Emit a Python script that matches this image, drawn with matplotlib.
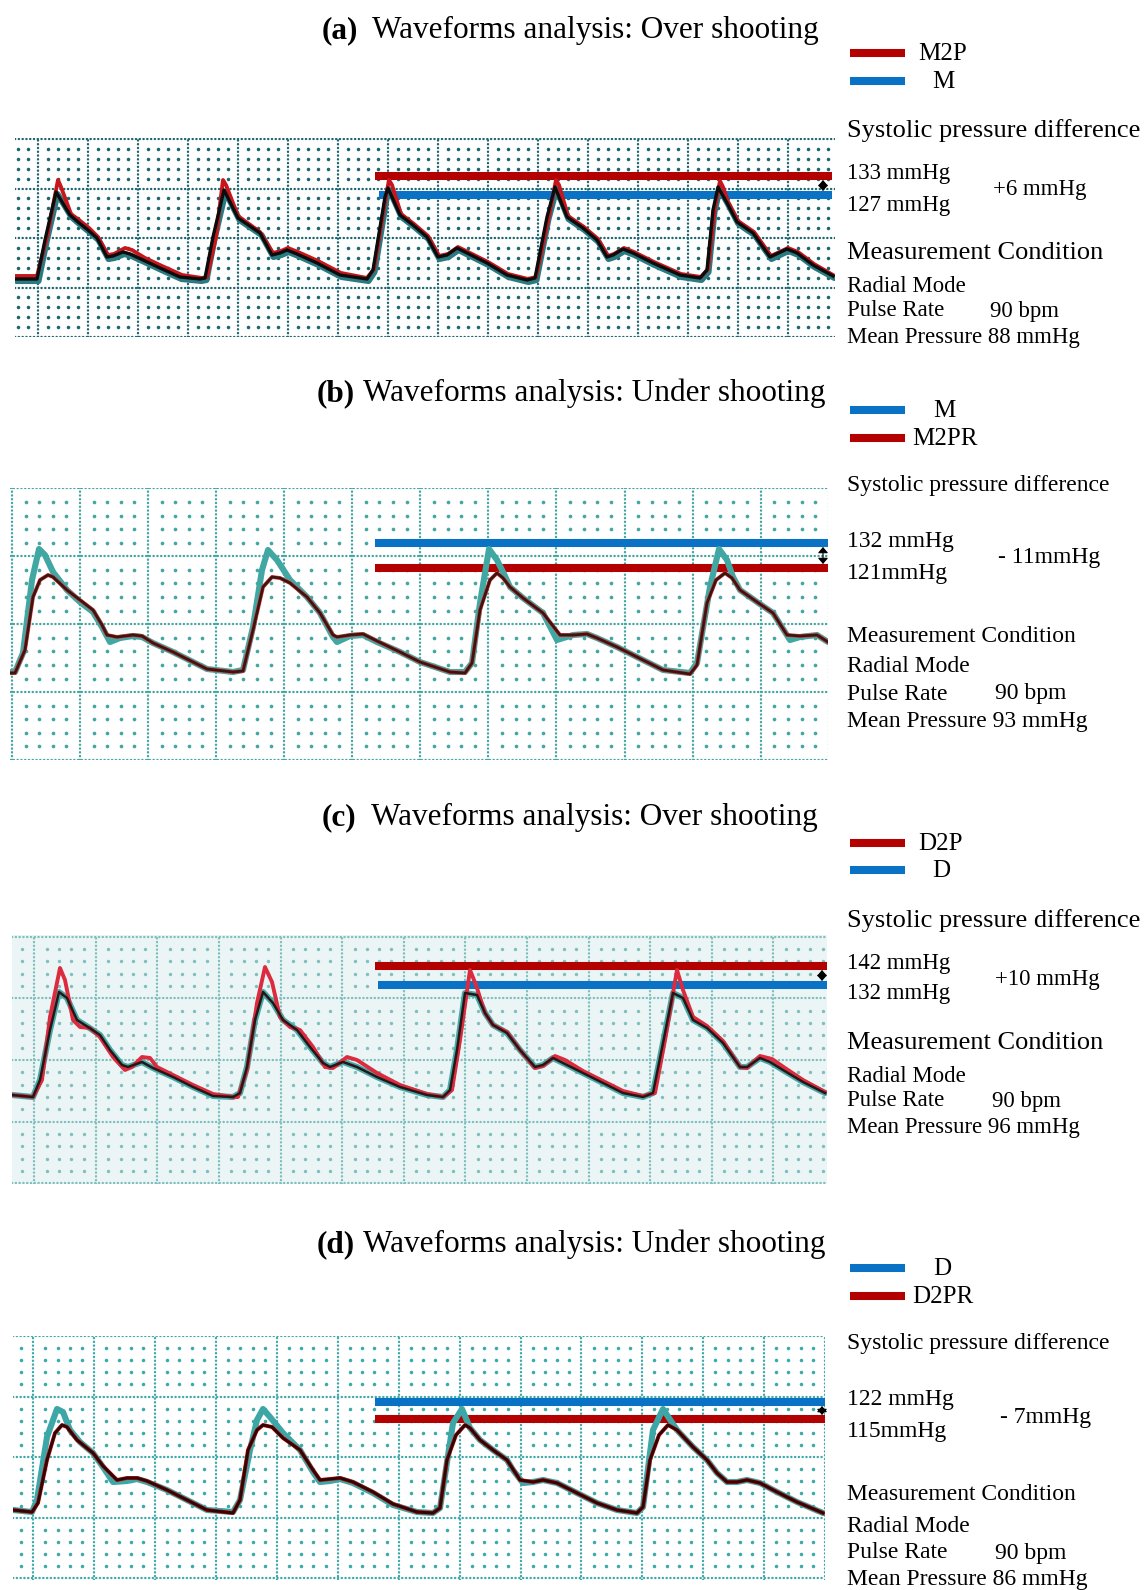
import numpy as np
import matplotlib.pyplot as plt
from matplotlib import transforms

plt.rcParams['font.family'] = ['Liberation Serif', 'DejaVu Serif']

W, H = 1148, 1590

# ---------------------------
# Digitised pulse traces (scan units: x from panel left, y up from panel bottom)
# ---------------------------
# (a) M (reference) and M2P
a_m_x = [0, 22, 30, 41, 55, 63, 73, 82, 92, 98, 108, 115, 128, 145, 165, 185, 190, 198, 209, 223,
         245, 257, 265, 272, 282, 302, 325, 352, 358, 370, 373, 385, 398, 412, 423, 432, 442, 452, 472, 492,
         512, 520, 532, 540, 552, 568, 582, 592, 598, 608, 618, 638, 665, 685, 692, 698, 703, 712, 722, 738,
         755, 772, 782, 798, 818]
a_m_y = [58, 58, 97, 145, 122, 115, 107, 99, 80, 81, 85, 83, 77, 69, 60, 58, 59, 100, 147, 119,
         104, 82, 84, 87, 83, 74, 62, 58, 67, 140, 149, 122, 112, 100, 80, 82, 89, 84, 74, 62,
         57, 59, 120, 150, 120, 109, 97, 80, 82, 88, 84, 74, 62, 59, 67, 127, 150, 134, 115, 104,
         80, 88, 84, 72, 61]
a_p_x = [0, 22, 32, 43, 46, 56, 64, 74, 83, 93, 99, 110, 117, 130, 147, 167, 187, 192, 201, 208,
         211, 223, 245, 258, 266, 273, 283, 303, 326, 352, 359, 371, 374, 377, 386, 399, 413, 424, 433, 443,
         453, 473, 493, 513, 521, 534, 541, 544, 553, 569, 583, 593, 599, 609, 619, 639, 666, 686, 693, 700,
         705, 708, 713, 723, 739, 756, 773, 783, 799, 818]
a_p_y = [61, 61, 100, 157, 150, 123, 117, 109, 100, 82, 83, 89, 87, 79, 71, 62, 59, 60, 100, 157,
         152, 121, 105, 84, 86, 89, 85, 76, 64, 59, 68, 141, 157, 152, 123, 113, 101, 81, 83, 90,
         85, 75, 63, 58, 60, 121, 157, 152, 121, 110, 98, 81, 83, 89, 85, 75, 63, 60, 68, 130,
         156, 150, 135, 116, 105, 81, 89, 85, 73, 62]

# (b) M (reference) and M2PR
b_m_x = [0, 5, 13, 22, 29, 35, 43, 57, 70, 83, 92, 100, 110, 123, 132, 143, 163, 183, 197, 223,
         233, 243, 252, 258, 267, 280, 297, 310, 323, 327, 340, 353, 367, 390, 410, 440, 455, 462, 470, 479,
         487, 494, 500, 513, 533, 547, 563, 577, 587, 607, 633, 653, 680, 687, 700, 709, 717, 723, 730, 747,
         763, 780, 790, 807, 818]
b_m_y = [88, 88, 107, 180, 211, 205, 188, 170, 158, 148, 133, 118, 122, 124, 123, 117, 108, 98, 91, 88,
         90, 133, 190, 210, 200, 180, 163, 147, 123, 118, 124, 125, 118, 108, 98, 88, 88, 97, 157, 211,
         200, 186, 173, 162, 147, 120, 125, 126, 122, 113, 100, 90, 87, 97, 173, 211, 200, 183, 170, 158,
         147, 120, 123, 125, 118]
b_p_x = [0, 5, 15, 23, 30, 38, 43, 57, 70, 83, 92, 97, 107, 123, 132, 143, 163, 183, 197, 223,
         233, 243, 253, 262, 270, 280, 297, 310, 323, 327, 340, 353, 367, 390, 410, 440, 455, 462, 470, 480,
         487, 493, 500, 513, 533, 550, 563, 577, 587, 607, 633, 653, 680, 687, 697, 706, 715, 722, 730, 747,
         763, 777, 790, 807, 818]
b_p_y = [87, 87, 110, 163, 180, 185, 183, 170, 160, 150, 135, 125, 123, 125, 124, 117, 108, 98, 91, 88,
         89, 130, 173, 183, 182, 177, 163, 147, 125, 123, 125, 126, 119, 108, 98, 88, 87, 97, 150, 180,
         187, 182, 173, 162, 147, 125, 125, 126, 122, 113, 100, 90, 86, 95, 157, 180, 187, 182, 170, 158,
         147, 125, 124, 125, 118]

# (c) D (reference) and D2P
c_m_x = [0, 21, 28, 38, 47, 55, 65, 76, 88, 98, 110, 116, 130, 141, 161, 181, 201, 221, 228, 235,
         243, 251, 261, 271, 285, 298, 311, 318, 331, 345, 365, 388, 415, 431, 438, 445, 453, 465, 473, 481,
         495, 508, 523, 531, 541, 551, 571, 591, 611, 631, 641, 651, 661, 671, 681, 695, 711, 728, 735, 748,
         758, 771, 791, 813]
c_m_y = [89, 87, 104, 154, 192, 186, 164, 157, 149, 134, 119, 117, 122, 116, 107, 97, 88, 87, 91, 117,
         164, 192, 181, 164, 154, 137, 121, 117, 122, 117, 107, 97, 89, 87, 94, 134, 191, 189, 171, 159,
         151, 134, 117, 119, 126, 121, 111, 101, 91, 87, 91, 141, 191, 186, 164, 156, 141, 117, 117, 126,
         122, 114, 102, 91]
c_p_x = [0, 21, 30, 38, 48, 53, 61, 68, 78, 88, 101, 113, 120, 130, 138, 145, 161, 181, 201, 221,
         226, 235, 245, 253, 260, 268, 278, 288, 301, 313, 321, 335, 345, 365, 388, 415, 431, 440, 448, 458,
         464, 473, 481, 495, 508, 523, 531, 543, 553, 571, 591, 611, 631, 643, 653, 665, 671, 681, 695, 711,
         728, 735, 748, 760, 773, 791, 813]
c_p_y = [89, 87, 104, 167, 216, 204, 164, 157, 156, 147, 127, 114, 117, 127, 126, 117, 109, 99, 90, 87,
         87, 114, 181, 217, 202, 167, 157, 154, 137, 117, 116, 127, 124, 111, 99, 90, 87, 94, 144, 214,
         199, 171, 159, 152, 134, 116, 118, 128, 124, 113, 103, 93, 88, 91, 144, 214, 194, 167, 158, 143,
         117, 116, 128, 125, 116, 104, 92]

# (d) D (reference) and D2PR
d_m_x = [0, 19, 24, 34, 44, 50, 57, 67, 80, 90, 100, 114, 124, 134, 154, 174, 194, 220, 227, 237,
         244, 250, 257, 270, 287, 300, 307, 317, 327, 340, 360, 380, 404, 420, 427, 440, 449, 457, 467, 480,
         494, 500, 510, 520, 530, 544, 564, 584, 604, 624, 630, 640, 650, 664, 680, 694, 704, 714, 724, 734,
         747, 764, 784, 810]
d_m_y = [70, 68, 80, 143, 171, 168, 150, 138, 127, 113, 98, 99, 101, 98, 90, 80, 70, 68, 80, 130,
         160, 171, 163, 147, 130, 108, 98, 99, 101, 97, 87, 75, 68, 67, 72, 157, 171, 152, 140, 130,
         120, 110, 97, 98, 100, 97, 87, 77, 70, 67, 73, 150, 171, 150, 133, 120, 107, 98, 98, 100,
         97, 88, 78, 67]
d_p_x = [0, 19, 25, 34, 42, 49, 54, 64, 80, 90, 104, 114, 124, 134, 154, 174, 194, 220, 227, 235,
         244, 250, 259, 270, 287, 300, 307, 317, 327, 340, 360, 380, 404, 420, 427, 434, 443, 452, 457, 467,
         480, 494, 507, 520, 530, 544, 564, 584, 604, 624, 630, 637, 646, 655, 664, 680, 694, 704, 714, 724,
         734, 747, 764, 784, 810]
d_p_y = [70, 68, 77, 120, 147, 155, 153, 140, 127, 114, 100, 102, 102, 99, 90, 80, 70, 67, 80, 130,
         150, 155, 153, 142, 130, 110, 100, 101, 102, 98, 88, 76, 68, 67, 72, 120, 145, 155, 152, 140,
         130, 120, 100, 98, 100, 97, 87, 77, 70, 67, 73, 120, 145, 155, 150, 133, 120, 107, 98, 98,
         100, 97, 88, 78, 67]

# systolic marker bars: level and span (scan units), [red, blue]
a_bar_y = [161, 142]
a_bar_x = [[360, 817], [364, 817]]
b_bar_y = [192, 217]
b_bar_x = [[365, 818], [365, 818]]
c_bar_y = [218, 199]
c_bar_x = [[363, 820], [366, 820]]
d_bar_y = [161, 178]
d_bar_x = [[362, 817], [362, 815]]

# text
titles = ["Waveforms analysis: Over shooting", "Waveforms analysis: Under shooting",
          "Waveforms analysis: Over shooting", "Waveforms analysis: Under shooting"]
tags = ["(a)", "(b)", "(c)", "(d)"]
legend_names = [["M2P", "M"], ["M", "M2PR"], ["D2P", "D"], ["D", "D2PR"]]
sys_values = [["133 mmHg", "127 mmHg", "+6 mmHg"], ["132 mmHg", "121mmHg", "- 11mmHg"],
              ["142 mmHg", "132 mmHg", "+10 mmHg"], ["122 mmHg", "115mmHg", "- 7mmHg"]]
mean_pressure = ["Mean Pressure 88 mmHg", "Mean Pressure 93 mmHg",
                 "Mean Pressure 96 mmHg", "Mean Pressure 86 mmHg"]

RED_BAR = '#b30000'
BLUE_BAR = '#0a72c4'

# layout / style per panel
panels = [
    dict(box=(15, 138, 835, 337), grid=(22.7, 50.0, 0.0, 49.5), gcol='#1b6670', bg='white', dot=6.5,
         m=(a_m_x, a_m_y), p=(a_p_x, a_p_y), black='m', bars=(a_bar_y, a_bar_x), arrow=808,
         teal='#2a7a82', red='#c8161d', blk='#0c0c0c', blw=2.4, shadow=True,
         title_y=38, tag_x=322, title_x=372,
         leg=[(53, RED_BAR, 918), (81, BLUE_BAR, 932)],
         rows=[130, 173, 204, 188, 252, 285, 310, 337], val_x=993, bpm_x=990, big=19, small=16.4),
    dict(box=(10, 488, 828, 760), grid=(1.9, 68.07, 0.0, 67.9), gcol='#45a6a1', bg='white', dot=7,
         m=(b_m_x, b_m_y), p=(b_p_x, b_p_y), black='p', bars=(b_bar_y, b_bar_x), arrow=813,
         teal='#41a7a3', red='#e0383a', blk='#3a1612', blw=2.0, shadow=False,
         title_y=401, tag_x=317, title_x=363,
         leg=[(410, BLUE_BAR, 933), (438, RED_BAR, 912)],
         rows=[484, 541, 572, 557, 635, 665, 693, 720], val_x=998, bpm_x=995, big=17, small=17),
    dict(box=(12, 935, 827, 1184), grid=(22.3, 61.58, 0.7, 61.65), gcol='#7fbfbd', bg='#ecf5f6', dot=6,
         m=(c_m_x, c_m_y), p=(c_p_x, c_p_y), black='m', bars=(c_bar_y, c_bar_x), arrow=810,
         teal='#44a9a7', red='#dc2a3e', blk='#2a1515', blw=1.8, shadow=False,
         title_y=825, tag_x=322, title_x=371,
         leg=[(843, RED_BAR, 918), (870, BLUE_BAR, 932)],
         rows=[920, 963, 993, 978, 1042, 1075, 1100, 1127], val_x=995, bpm_x=992, big=19, small=16.4),
    dict(box=(13, 1336, 825, 1580), grid=(20.3, 60.9, 1.7, 60.6), gcol='#3ea9a8', bg='white', dot=6.5,
         m=(d_m_x, d_m_y), p=(d_p_x, d_p_y), black='p', bars=(d_bar_y, d_bar_x), arrow=809,
         teal='#3ca7a6', red='#d00000', blk='#2b0808', blw=2.0, shadow=False,
         title_y=1252, tag_x=317, title_x=363,
         leg=[(1268, BLUE_BAR, 933), (1296, RED_BAR, 912)],
         rows=[1343, 1398, 1430, 1417, 1493, 1525, 1552, 1578], val_x=1000, bpm_x=995, big=17, small=17),
]


def draw_paper(ax, w, h, x0, sx, y0, sy, color, dot):
    # major divisions: densely dotted lines
    for x in np.arange(x0 % sx, w + 1, sx):
        ax.plot([x, x], [0, h], color=color, lw=1.7, ls=(0, (0.1, 1.5)),
                dash_capstyle='round', zorder=1)
    for y in np.arange(y0 % sy, h + 1, sy):
        ax.plot([0, w], [y, y], color=color, lw=1.7, ls=(0, (0.1, 1.5)),
                dash_capstyle='round', zorder=1)
    # minor divisions: single dots
    kx = np.arange(-10, int(w / sx * 5) + 10)
    ky = np.arange(-10, int(h / sy * 5) + 10)
    xs = x0 + kx * sx / 5
    ys = y0 + ky * sy / 5
    xs = xs[(kx % 5 != 0) & (xs >= 0) & (xs <= w)]
    ys = ys[(ky % 5 != 0) & (ys >= 0) & (ys <= h)]
    gx, gy = np.meshgrid(xs, ys)
    ax.scatter(gx.ravel(), gy.ravel(), s=dot, color=color, lw=0, zorder=1)


fig = plt.figure(figsize=(W / 100, H / 100), dpi=100)
over = fig.add_axes([0, 0, 1, 1])
over.set_xlim(0, W)
over.set_ylim(H, 0)
over.axis('off')

for i, pn in enumerate(panels):
    L, T, R, B = pn['box']
    w, h = R - L, B - T
    ax = fig.add_axes([L / W, 1 - B / H, w / W, h / H])
    ax.set_xlim(0, w)
    ax.set_ylim(0, h)
    ax.set_xticks([])
    ax.set_yticks([])
    for s in ax.spines.values():
        s.set_visible(False)
    ax.set_facecolor(pn['bg'])

    x0, sx, y0, sy = pn['grid']
    draw_paper(ax, w, h, x0, sx, y0, sy, pn['gcol'], pn['dot'])

    # systolic bars
    bar_y, bar_x = pn['bars']
    ax.plot(bar_x[0], [bar_y[0]] * 2, color=RED_BAR, lw=5.8, solid_capstyle='butt', zorder=3)
    ax.plot(bar_x[1], [bar_y[1]] * 2, color=BLUE_BAR, lw=5.8, solid_capstyle='butt', zorder=3)
    lo, hi = sorted(bar_y)
    ax.annotate('', xy=(pn['arrow'], hi - 4), xytext=(pn['arrow'], lo + 4),
                arrowprops=dict(arrowstyle='<|-|>,head_length=0.35,head_width=0.3',
                                color='k', lw=0.8, shrinkA=0, shrinkB=0), zorder=7)

    # traces
    mx, my = pn['m']
    px, py = pn['p']
    tr = ax.transData
    if pn['shadow']:
        tr = transforms.offset_copy(ax.transData, fig=fig, x=1.5, y=-2.0, units='dots')
    ax.plot(mx, my, color=pn['teal'], lw=4.4, solid_joinstyle='round', solid_capstyle='round',
            transform=tr, zorder=4)
    ax.plot(px, py, color=pn['red'], lw=2.8, solid_joinstyle='round', zorder=5)
    bx, by = (mx, my) if pn['black'] == 'm' else (px, py)
    ax.plot(bx, by, color=pn['blk'], lw=pn['blw'], solid_joinstyle='round', zorder=6)

    # title
    over.text(pn['tag_x'], pn['title_y'], tags[i], fontsize=22.5, fontweight='bold', va='baseline')
    over.text(pn['title_x'], pn['title_y'], titles[i], fontsize=22.5, va='baseline')

    # legend glyphs
    for (ly, col, tx), name in zip(pn['leg'], legend_names[i]):
        over.plot([850, 905], [ly, ly], color=col, lw=5.8, solid_capstyle='butt')
        over.text(tx, ly + 1, name, fontsize=18, va='center')

    # side notes
    r = pn['rows']
    big, small = pn['big'], pn['small']
    over.text(847, r[0] + 1, "Systolic pressure difference", fontsize=big, va='center')
    over.text(847, r[1] + 1, sys_values[i][0], fontsize=small, va='center')
    over.text(847, r[2] + 1, sys_values[i][1], fontsize=small, va='center')
    over.text(pn['val_x'], r[3] + 1, sys_values[i][2], fontsize=small, va='center')
    over.text(847, r[4] + 1, "Measurement Condition", fontsize=big, va='center')
    over.text(847, r[5] + 1, "Radial Mode", fontsize=small, va='center')
    over.text(847, r[6] + 1, "Pulse Rate", fontsize=small, va='center')
    over.text(pn['bpm_x'], r[6] + 1, "90 bpm", fontsize=small, va='center')
    over.text(847, r[7] + 1, mean_pressure[i], fontsize=small, va='center')

fig.savefig("out.png", dpi=100)
